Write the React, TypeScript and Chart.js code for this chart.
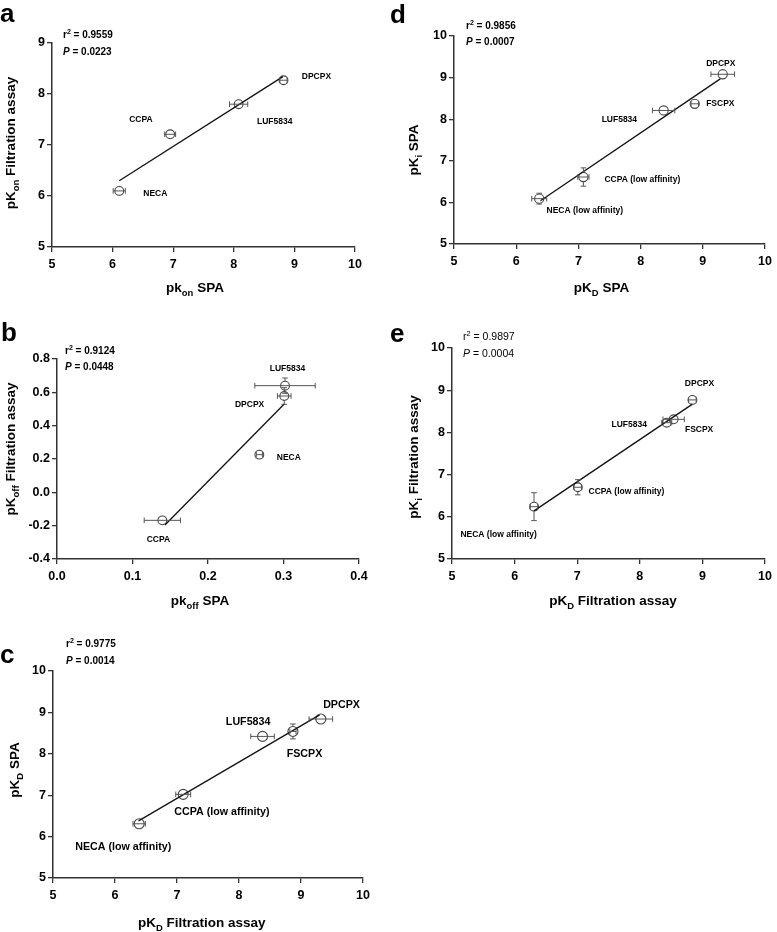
import React, { useEffect, useRef } from 'react';
import { Chart, registerables } from 'chart.js';

Chart.register(...registerables);

const FONT = "'Liberation Sans', Arial, Helvetica, sans-serif";

// ---------------- DATA ----------------
// Panel a: pkon SPA vs pKon Filtration assay
const aNames = ['NECA', 'CCPA', 'LUF5834', 'DPCPX'];
const aX = [6.11, 6.95, 8.08, 8.82];
const aY = [6.10, 7.21, 7.80, 8.27];
const aXErr = [0.10, 0.09, 0.15, 0.06];
const aYErr = [0.03, 0.03, 0.04, 0.05];
const aFitX = [6.11, 8.81];
const aFitY = [6.30, 8.34];
const aStats = ['0.9559', '0.0223'];

// Panel b: pkoff SPA vs pKoff Filtration assay
const bNames = ['CCPA', 'NECA', 'DPCPX', 'LUF5834'];
const bX = [0.1395, 0.268, 0.301, 0.302];
const bY = [-0.168, 0.226, 0.578, 0.640];
const bXErr = [0.024, 0.004, 0.009, 0.040];
const bYErr = [0.01, 0.02, 0.05, 0.046];
const bFitX = [0.143, 0.301];
const bFitY = [-0.196, 0.53];
const bStats = ['0.9124', '0.0448'];

// Panel c: pKD Filtration assay vs pKD SPA
const cNames = ['NECA (low affinity)', 'CCPA (low affinity)', 'LUF5834', 'FSCPX', 'DPCPX'];
const cX = [6.39, 7.10, 8.38, 8.87, 9.32];
const cY = [6.31, 7.02, 8.42, 8.54, 8.84];
const cXErr = [0.10, 0.12, 0.19, 0.05, 0.19];
const cYErr = [0.03, 0.04, 0.03, 0.18, 0.05];
const cFitX = [6.38, 9.30];
const cFitY = [6.38, 8.94];
const cStats = ['0.9775', '0.0014'];

// Panel d: pKD SPA vs pKi SPA
const dNames = ['NECA (low affinity)', 'CCPA (low affinity)', 'LUF5834', 'FSCPX', 'DPCPX'];
const dX = [6.37, 7.08, 8.37, 8.87, 9.32];
const dY = [6.09, 6.61, 8.21, 8.37, 9.08];
const dXErr = [0.12, 0.09, 0.18, 0.06, 0.19];
const dYErr = [0.13, 0.22, 0.04, 0.04, 0.05];
const dFitX = [6.39, 9.28];
const dFitY = [6.04, 8.97];
const dStats = ['0.9856', '0.0007'];

// Panel e: pKD Filtration assay vs pKi Filtration assay
const eNames = ['NECA (low affinity)', 'CCPA (low affinity)', 'LUF5834', 'FSCPX', 'DPCPX'];
const eX = [6.31, 7.01, 8.43, 8.54, 8.84];
const eY = [6.24, 6.70, 8.23, 8.31, 8.77];
const eXErr = [0.06, 0.06, 0.08, 0.17, 0.06];
const eYErr = [0.33, 0.18, 0.04, 0.04, 0.04];
const eFitX = [6.31, 8.84];
const eFitY = [6.14, 8.67];
const eStats = ['0.9897', '0.0004'];

// ---------------- LAYOUT ----------------
type Seg = { t: string; sub?: boolean; sup?: boolean; italic?: boolean };

interface PanelCfg {
  letter: string;
  left: number; top: number; w: number; h: number;
  area: { l: number; t: number; r: number; b: number };
  xMin: number; xMax: number; xStep: number;
  yMin: number; yMax: number; yStep: number;
  decimals: number;
  names: string[]; x: number[]; y: number[]; xErr: number[]; yErr: number[];
  fitX: number[]; fitY: number[]; stats: string[];
  xTitle: Seg[]; yTitle: Seg[];
  xTitlePos: [number, number]; yTitlePos: [number, number];
  statsPos: [number, number, number];
  statsBold: boolean; statsSize: number;
  letterPos: [number, number];
  labelOffsets: [number, number][];
  labelSize: number;
  r: number;
}

const PANELS: PanelCfg[] = [
  {
    letter: 'a', left: 0, top: 0, w: 388, h: 300,
    area: { l: 52, t: 43, r: 355, b: 247 },
    xMin: 5, xMax: 10, xStep: 1, yMin: 5, yMax: 9, yStep: 1, decimals: 0,
    names: aNames, x: aX, y: aY, xErr: aXErr, yErr: aYErr, fitX: aFitX, fitY: aFitY, stats: aStats,
    xTitle: [{ t: 'pk' }, { t: 'on', sub: true }, { t: ' SPA' }],
    yTitle: [{ t: 'pK' }, { t: 'on', sub: true }, { t: ' Filtration assay' }],
    xTitlePos: [195, 287], yTitlePos: [10, 143],
    statsPos: [63, 34, 51], statsBold: true, statsSize: 10,
    letterPos: [0, 22],
    labelOffsets: [[24, 3], [-41, -15], [18.3, 17.3], [18.3, -4]],
    labelSize: 8.5, r: 4.4,
  },
  {
    letter: 'b', left: 0, top: 300, w: 388, h: 315,
    area: { l: 57, t: 59, r: 359, b: 259 },
    xMin: 0, xMax: 0.4, xStep: 0.1, yMin: -0.4, yMax: 0.8, yStep: 0.2, decimals: 1,
    names: bNames, x: bX, y: bY, xErr: bXErr, yErr: bYErr, fitX: bFitX, fitY: bFitY, stats: bStats,
    xTitle: [{ t: 'pk' }, { t: 'off', sub: true }, { t: ' SPA' }],
    yTitle: [{ t: 'pK' }, { t: 'off', sub: true }, { t: ' Filtration assay' }],
    xTitlePos: [200, 300], yTitlePos: [10, 149],
    statsPos: [65, 50, 66.7], statsBold: true, statsSize: 10,
    letterPos: [1, 40.5],
    labelOffsets: [[-15.6, 19.7], [17.4, 3], [-49.3, 9], [-15.3, -16.7]],
    labelSize: 8.5, r: 4.4,
  },
  {
    letter: 'c', left: 0, top: 615, w: 388, h: 317,
    area: { l: 53, t: 56, r: 363, b: 263 },
    xMin: 5, xMax: 10, xStep: 1, yMin: 5, yMax: 10, yStep: 1, decimals: 0,
    names: cNames, x: cX, y: cY, xErr: cXErr, yErr: cYErr, fitX: cFitX, fitY: cFitY, stats: cStats,
    xTitle: [{ t: 'pK' }, { t: 'D', sub: true }, { t: ' Filtration assay' }],
    yTitle: [{ t: 'pK' }, { t: 'D', sub: true }, { t: ' SPA' }],
    xTitlePos: [201.7, 306.7], yTitlePos: [14, 155],
    statsPos: [66, 28.3, 45], statsBold: true, statsSize: 10,
    letterPos: [0, 48],
    labelOffsets: [[-64, 23.7], [-9, 17.7], [-36.7, -14.6], [-6.3, 22.7], [2.3, -14]],
    labelSize: 10.7, r: 5,
  },
  {
    letter: 'd', left: 388, top: 0, w: 389, h: 300,
    area: { l: 66, t: 36, r: 378, b: 244 },
    xMin: 5, xMax: 10, xStep: 1, yMin: 5, yMax: 10, yStep: 1, decimals: 0,
    names: dNames, x: dX, y: dY, xErr: dXErr, yErr: dYErr, fitX: dFitX, fitY: dFitY, stats: dStats,
    xTitle: [{ t: 'pK' }, { t: 'D', sub: true }, { t: ' SPA' }],
    yTitle: [{ t: 'pK' }, { t: 'i', sub: true }, { t: ' SPA' }],
    xTitlePos: [213.5, 287], yTitlePos: [25, 150],
    statsPos: [78, 25, 41], statsBold: true, statsSize: 10,
    letterPos: [2, 23],
    labelOffsets: [[7.3, 12.3], [21, 3], [-62, 9], [11.4, 0], [-16.6, -11]],
    labelSize: 8.5, r: 4.6,
  },
  {
    letter: 'e', left: 388, top: 300, w: 389, h: 315,
    area: { l: 64, t: 48, r: 381, b: 259 },
    xMin: 5, xMax: 10, xStep: 1, yMin: 5, yMax: 10, yStep: 1, decimals: 0,
    names: eNames, x: eX, y: eY, xErr: eXErr, yErr: eYErr, fitX: eFitX, fitY: eFitY, stats: eStats,
    xTitle: [{ t: 'pK' }, { t: 'D', sub: true }, { t: ' Filtration assay' }],
    yTitle: [{ t: 'pK' }, { t: 'i', sub: true }, { t: ' Filtration assay' }],
    xTitlePos: [225, 300], yTitlePos: [25, 157],
    statsPos: [75, 36, 53], statsBold: false, statsSize: 10.5,
    letterPos: [2, 41.7],
    labelOffsets: [[-73.6, 27.6], [10.7, 4.4], [-55.3, 2.3], [11.3, 10.7], [-7.6, -16]],
    labelSize: 8.5, r: 4.4,
  },
];

// ---------------- DRAW HELPERS ----------------
function segFont(s: Seg, size: number, bold: boolean) {
  const sz = s.sub || s.sup ? size * 0.7 : size;
  return `${s.italic ? 'italic ' : ''}${bold ? 'bold ' : ''}${sz}px ${FONT}`;
}

function drawRich(
  ctx: CanvasRenderingContext2D, segs: Seg[], x: number, cy: number,
  size: number, bold: boolean, align: 'left' | 'center'
) {
  let total = 0;
  const widths: number[] = [];
  for (const s of segs) {
    ctx.font = segFont(s, size, bold);
    const w = ctx.measureText(s.t).width;
    widths.push(w);
    total += w;
  }
  let cx = align === 'center' ? x - total / 2 : x;
  const base = cy + size * 0.36;
  ctx.textAlign = 'left';
  ctx.textBaseline = 'alphabetic';
  segs.forEach((s, i) => {
    ctx.font = segFont(s, size, bold);
    let by = base;
    if (s.sub) by = base + size * 0.3;
    if (s.sup) by = base - size * 0.4;
    ctx.fillText(s.t, cx, by);
    cx += widths[i];
  });
}

function Panel({ cfg }: { cfg: PanelCfg }) {
  const ref = useRef<HTMLCanvasElement>(null);

  useEffect(() => {
    const canvas = ref.current;
    if (!canvas) return;
    const pts = cfg.x.map((v, i) => ({ x: v, y: cfg.y[i] }));
    const fit = cfg.fitX.map((v, i) => ({ x: v, y: cfg.fitY[i] }));

    const decor = {
      id: 'decor',
      afterDatasetsDraw(chart: any) {
        const ctx: CanvasRenderingContext2D = chart.ctx;
        const xs = chart.scales.x;
        const ys = chart.scales.y;
        ctx.save();
        ctx.strokeStyle = '#555';
        ctx.lineWidth = 1;
        const cap = 2.8;
        cfg.x.forEach((xv, i) => {
          const yv = cfg.y[i];
          const px = xs.getPixelForValue(xv);
          const py = ys.getPixelForValue(yv);
          const x1 = xs.getPixelForValue(xv - cfg.xErr[i]);
          const x2 = xs.getPixelForValue(xv + cfg.xErr[i]);
          ctx.beginPath();
          ctx.moveTo(x1, py); ctx.lineTo(x2, py);
          ctx.moveTo(x1, py - cap); ctx.lineTo(x1, py + cap);
          ctx.moveTo(x2, py - cap); ctx.lineTo(x2, py + cap);
          ctx.stroke();
          const y1 = ys.getPixelForValue(yv + cfg.yErr[i]);
          const y2 = ys.getPixelForValue(yv - cfg.yErr[i]);
          if (py - y1 > cfg.r + 0.5) {
            ctx.beginPath();
            ctx.moveTo(px, y1); ctx.lineTo(px, py - cfg.r);
            ctx.moveTo(px, py + cfg.r); ctx.lineTo(px, y2);
            ctx.moveTo(px - cap, y1); ctx.lineTo(px + cap, y1);
            ctx.moveTo(px - cap, y2); ctx.lineTo(px + cap, y2);
            ctx.stroke();
          }
        });
        ctx.restore();
      },
      afterDraw(chart: any) {
        const ctx: CanvasRenderingContext2D = chart.ctx;
        const xs = chart.scales.x;
        const ys = chart.scales.y;
        ctx.save();
        ctx.fillStyle = '#000';
        // point labels
        ctx.font = `bold ${cfg.labelSize}px ${FONT}`;
        ctx.textAlign = 'left';
        ctx.textBaseline = 'middle';
        cfg.names.forEach((n, i) => {
          const px = xs.getPixelForValue(cfg.x[i]);
          const py = ys.getPixelForValue(cfg.y[i]);
          const [dx, dy] = cfg.labelOffsets[i];
          ctx.fillText(n, px + dx, py + dy);
        });
        // stats
        drawRich(ctx, [{ t: 'r' }, { t: '2', sup: true }, { t: ' = ' + cfg.stats[0] }],
          cfg.statsPos[0], cfg.statsPos[1], cfg.statsSize, cfg.statsBold, 'left');
        drawRich(ctx, [{ t: 'P', italic: true }, { t: ' = ' + cfg.stats[1] }],
          cfg.statsPos[0], cfg.statsPos[2], cfg.statsSize, cfg.statsBold, 'left');
        // axis titles
        drawRich(ctx, cfg.xTitle, cfg.xTitlePos[0], cfg.xTitlePos[1], 13.5, true, 'center');
        ctx.save();
        ctx.translate(cfg.yTitlePos[0], cfg.yTitlePos[1]);
        ctx.rotate(-Math.PI / 2);
        drawRich(ctx, cfg.yTitle, 0, 0, 13.5, true, 'center');
        ctx.restore();
        // panel letter
        ctx.font = `bold 26px ${FONT}`;
        ctx.textAlign = 'left';
        ctx.textBaseline = 'alphabetic';
        ctx.fillText(cfg.letter, cfg.letterPos[0], cfg.letterPos[1]);
        ctx.restore();
      },
    };

    const tickFont = { family: FONT, size: 12.5, weight: 'bold' as const };
    const fmt = (v: any) => Number(v).toFixed(cfg.decimals);

    const chart = new Chart(canvas, {
      type: 'scatter',
      data: {
        datasets: [
          {
            data: fit,
            showLine: true,
            borderColor: '#111',
            borderWidth: 1.3,
            pointRadius: 0,
            fill: false,
          },
          {
            data: pts,
            showLine: false,
            pointRadius: cfg.r,
            pointStyle: 'circle',
            pointBorderColor: '#444',
            pointBackgroundColor: 'rgba(255,255,255,0)',
            pointBorderWidth: 1.1,
          },
        ],
      },
      options: {
        animation: false,
        responsive: false,
        events: [],
        layout: { padding: { left: 0, top: cfg.area.t, right: cfg.w - cfg.area.r, bottom: 0 } },
        plugins: { legend: { display: false }, tooltip: { enabled: false } },
        scales: {
          x: {
            type: 'linear',
            position: 'bottom',
            min: cfg.xMin, max: cfg.xMax,
            afterFit: (s: any) => { s.height = cfg.h - cfg.area.b; },
            ticks: { stepSize: cfg.xStep, font: tickFont, color: '#000', padding: 5, callback: fmt, autoSkip: false, maxRotation: 0 },
            grid: { display: true, drawOnChartArea: false, drawTicks: true, tickLength: 5, color: '#333', lineWidth: 1.3 },
            border: { display: true, color: '#333', width: 1.5 },
          },
          y: {
            type: 'linear',
            position: 'left',
            min: cfg.yMin, max: cfg.yMax,
            afterFit: (s: any) => { s.width = cfg.area.l; },
            ticks: { stepSize: cfg.yStep, font: tickFont, color: '#000', padding: 2, callback: fmt, autoSkip: false },
            grid: { display: true, drawOnChartArea: false, drawTicks: true, tickLength: 5, color: '#333', lineWidth: 1.3 },
            border: { display: true, color: '#333', width: 1.5 },
          },
        },
      } as any,
      plugins: [decor],
    });
    return () => chart.destroy();
  }, [cfg]);

  return (
    <canvas
      ref={ref}
      width={cfg.w}
      height={cfg.h}
      style={{ position: 'absolute', left: cfg.left, top: cfg.top, width: cfg.w, height: cfg.h }}
    />
  );
}

export default function App() {
  return (
    <div style={{ position: 'absolute', left: 0, top: 0, width: 777, height: 932, background: '#fff', overflow: 'hidden' }}>
      {PANELS.map((p) => (
        <Panel key={p.letter} cfg={p} />
      ))}
    </div>
  );
}
